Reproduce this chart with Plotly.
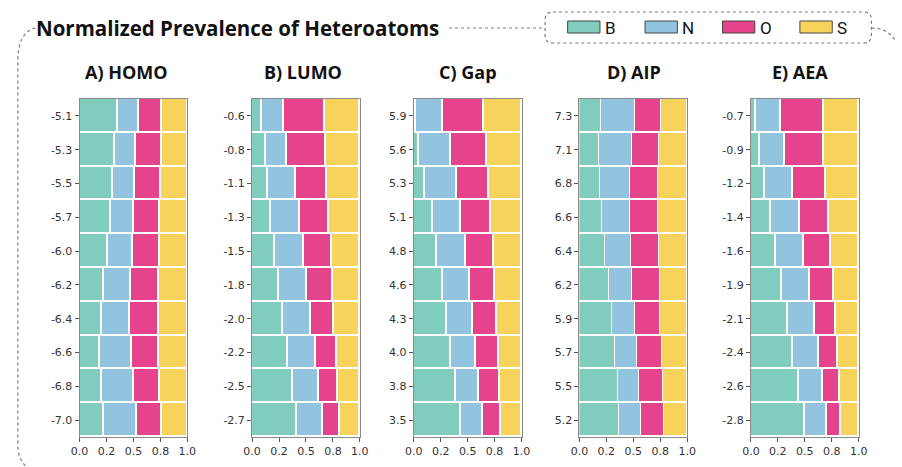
import plotly.graph_objects as go

W, H = 902, 467

# ---------------- data ----------------
panel_titles = ["A) HOMO", "B) LUMO", "C) Gap", "D) AIP", "E) AEA"]
elements = ["B", "N", "O", "S"]
colors = ["#80CDBD", "#93C4DF", "#E5438B", "#F8D35C"]

homo_labels = ["-5.1", "-5.3", "-5.5", "-5.7", "-6.0", "-6.2", "-6.4", "-6.6", "-6.8", "-7.0"]
homo_B = [0.350, 0.323, 0.308, 0.287, 0.260, 0.227, 0.208, 0.190, 0.200, 0.220]
homo_N = [0.194, 0.197, 0.200, 0.211, 0.232, 0.247, 0.260, 0.290, 0.300, 0.306]
homo_O = [0.221, 0.238, 0.244, 0.248, 0.248, 0.260, 0.263, 0.251, 0.240, 0.238]
homo_S = [0.235, 0.242, 0.248, 0.254, 0.260, 0.266, 0.269, 0.269, 0.260, 0.236]

lumo_labels = ["-0.6", "-0.8", "-1.1", "-1.3", "-1.5", "-1.8", "-2.0", "-2.2", "-2.5", "-2.7"]
lumo_B = [0.097, 0.127, 0.152, 0.173, 0.212, 0.248, 0.290, 0.336, 0.379, 0.420]
lumo_N = [0.197, 0.200, 0.254, 0.275, 0.273, 0.264, 0.255, 0.258, 0.242, 0.238]
lumo_O = [0.379, 0.355, 0.294, 0.270, 0.257, 0.243, 0.219, 0.191, 0.176, 0.162]
lumo_S = [0.327, 0.318, 0.300, 0.282, 0.258, 0.245, 0.236, 0.215, 0.203, 0.180]

gap_labels = ["5.9", "5.6", "5.3", "5.1", "4.8", "4.6", "4.3", "4.0", "3.8", "3.5"]
gap_B = [0.020, 0.050, 0.106, 0.173, 0.215, 0.270, 0.303, 0.342, 0.385, 0.440]
gap_N = [0.250, 0.290, 0.291, 0.263, 0.267, 0.250, 0.247, 0.234, 0.218, 0.196]
gap_O = [0.378, 0.340, 0.303, 0.282, 0.257, 0.235, 0.220, 0.209, 0.191, 0.173]
gap_S = [0.352, 0.320, 0.300, 0.282, 0.261, 0.245, 0.230, 0.215, 0.206, 0.191]

aip_labels = ["7.3", "7.1", "6.8", "6.6", "6.4", "6.2", "5.9", "5.7", "5.5", "5.2"]
aip_B = [0.207, 0.185, 0.195, 0.216, 0.240, 0.277, 0.310, 0.337, 0.359, 0.370]
aip_N = [0.316, 0.304, 0.276, 0.255, 0.243, 0.218, 0.213, 0.201, 0.197, 0.204]
aip_O = [0.234, 0.253, 0.262, 0.262, 0.259, 0.253, 0.227, 0.228, 0.219, 0.213]
aip_S = [0.243, 0.258, 0.267, 0.267, 0.258, 0.252, 0.250, 0.234, 0.225, 0.213]

aea_labels = ["-0.7", "-0.9", "-1.2", "-1.4", "-1.6", "-1.9", "-2.1", "-2.4", "-2.6", "-2.8"]
aea_B = [0.043, 0.082, 0.131, 0.182, 0.231, 0.289, 0.340, 0.392, 0.447, 0.498]
aea_N = [0.234, 0.237, 0.261, 0.271, 0.264, 0.261, 0.253, 0.243, 0.222, 0.204]
aea_O = [0.398, 0.359, 0.304, 0.273, 0.250, 0.216, 0.194, 0.170, 0.158, 0.137]
aea_S = [0.325, 0.322, 0.304, 0.274, 0.255, 0.234, 0.213, 0.195, 0.173, 0.161]

x_tick_vals = [0, 0.25, 0.5, 0.75, 1.0]
x_tick_text = ["0.0", "0.2", "0.5", "0.8", "1.0"]

panels = [
    (homo_labels, [homo_B, homo_N, homo_O, homo_S]),
    (lumo_labels, [lumo_B, lumo_N, lumo_O, lumo_S]),
    (gap_labels, [gap_B, gap_N, gap_O, gap_S]),
    (aip_labels, [aip_B, aip_N, aip_O, aip_S]),
    (aea_labels, [aea_B, aea_N, aea_O, aea_S]),
]

# ---------------- layout geometry (pixels) ----------------
panel_x = [(72, 182), (248, 358), (413, 523), (582, 692), (757, 867)]
title_cx = [120, 300, 468, 638, 807]
plot_top, plot_bottom = 99, 437


def px(x):
    return x / W


def py(y):
    return 1 - y / H


fig = go.Figure()
layout = dict(
    width=W, height=H,
    margin=dict(l=0, r=0, t=0, b=0),
    paper_bgcolor="white", plot_bgcolor="white",
    barmode="stack", bargap=0, showlegend=False,
    font=dict(family="DejaVu Sans", size=11, color="#333333"),
)

annotations = []
shapes = []

for i, (labels, series) in enumerate(panels):
    ax = "" if i == 0 else str(i + 1)
    for el, col, vals in zip(elements, colors, series):
        fig.add_trace(go.Bar(
            x=vals, y=labels, orientation="h", name=el,
            marker=dict(color=col, line=dict(color="white", width=1.6)),
            xaxis="x" + ax, yaxis="y" + ax,
        ))
    x0, x1 = panel_x[i]
    layout["xaxis" + ax] = dict(
        domain=[px(x0), px(x1)], anchor="y" + ax, range=[0, 1],
        tickvals=x_tick_vals, ticktext=x_tick_text,
        ticks="outside", ticklen=4, tickcolor="#555", tickwidth=1,
        showline=True, mirror=True, linecolor="#8a8a8a", linewidth=1,
        showgrid=False, zeroline=False, fixedrange=True,
        tickfont=dict(family="DejaVu Sans", size=11, color="#333"),
    )
    layout["yaxis" + ax] = dict(
        domain=[py(plot_bottom), py(plot_top)], anchor="x" + ax,
        type="category", categoryorder="array", categoryarray=labels,
        autorange="reversed",
        ticks="outside", ticklen=4, tickcolor="#555", tickwidth=1,
        showline=True, mirror=True, linecolor="#8a8a8a", linewidth=1,
        showgrid=False, zeroline=False,
        tickfont=dict(family="DejaVu Sans", size=11, color="#333"),
    )
    annotations.append(dict(
        x=px(title_cx[i]), y=py(72), xref="paper", yref="paper",
        text="<b>" + panel_titles[i] + "</b>", showarrow=False,
        xanchor="center", yanchor="middle",
        font=dict(family="Open Sans", size=18, color="#111"),
    ))

# main title
annotations.append(dict(
    x=px(25), y=py(28), xref="paper", yref="paper",
    text="<b>Normalized Prevalence of Heteroatoms</b>", showarrow=False,
    xanchor="left", yanchor="middle",
    font=dict(family="Open Sans", size=20.5, color="#111"),
))

frame_line = dict(color="#7a7a7a", width=1.2, dash="dot")


def path_px(cmds):
    out = []
    for c in cmds:
        if isinstance(c, str):
            out.append(c)
        else:
            out.append("%.5f,%.5f" % (px(c[0]), py(c[1])))
    return " ".join(out)


# left frame
shapes.append(dict(type="path", xref="paper", yref="paper", line=frame_line,
                   path=path_px(["M", (27, 28), "Q", (9, 32), (9, 62), "L", (9, 445),
                                 "Q", (9, 462), (22, 470)])))
# title connector
shapes.append(dict(type="line", xref="paper", yref="paper", line=frame_line,
                   x0=px(449), x1=px(547), y0=py(28), y1=py(28)))
# right frame
shapes.append(dict(type="path", xref="paper", yref="paper", line=frame_line,
                   path=path_px(["M", (880, 28), "Q", (896, 28), (904, 40)])))
# legend box (rounded)
lx0, lx1, ly0, ly1, r = 547, 880, 12, 43, 8
shapes.append(dict(type="path", xref="paper", yref="paper", line=frame_line,
                   path=path_px(["M", (lx0 + r, ly0), "L", (lx1 - r, ly0),
                                 "Q", (lx1, ly0), (lx1, ly0 + r), "L", (lx1, ly1 - r),
                                 "Q", (lx1, ly1), (lx1 - r, ly1), "L", (lx0 + r, ly1),
                                 "Q", (lx0, ly1), (lx0, ly1 - r), "L", (lx0, ly0 + r),
                                 "Q", (lx0, ly0), (lx0 + r, ly0), "Z"])))

# legend entries
leg_x = [570, 649, 728, 807]
for el, col, lx in zip(elements, colors, leg_x):
    shapes.append(dict(type="rect", xref="paper", yref="paper",
                       x0=px(lx), x1=px(lx + 33), y0=py(33), y1=py(21),
                       fillcolor=col, line=dict(color="#444", width=1)))
    annotations.append(dict(
        x=px(lx + 36), y=py(27.5), xref="paper", yref="paper", text=el,
        showarrow=False, xanchor="left", yanchor="middle",
        font=dict(family="Liberation Sans Narrow, Roboto", size=17, color="#111"),
    ))

layout["annotations"] = annotations
layout["shapes"] = shapes
fig.update_layout(**layout)
fig.write_html("out.html")
